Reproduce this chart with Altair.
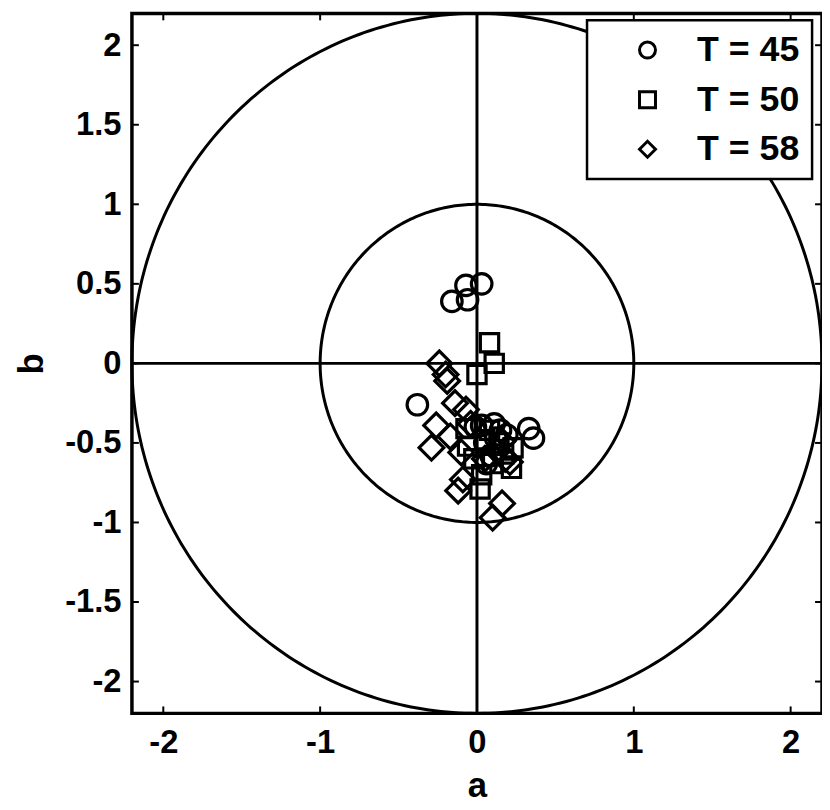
import altair as alt
import numpy as np
import pandas as pd

# ---- data ----
groups = ["T = 45", "T = 50", "T = 58"]

a45 = [-0.07, 0.03, -0.16, -0.06, -0.38, 0.03, 0.11, 0.15, 0.33, 0.36, 0.06, -0.01, 0.09, 0.05, 0.12, 0.19]
b45 = [0.49, 0.50, 0.39, 0.40, -0.26, -0.39, -0.38, -0.42, -0.41, -0.47, -0.63, -0.40, -0.58, -0.50, -0.47, -0.45]

a50 = [0.08, 0.11, 0.00, -0.07, -0.06, 0.05, 0.14, 0.23, 0.22, 0.10, 0.02, 0.03, -0.02, 0.08, 0.17]
b50 = [0.13, 0.00, -0.07, -0.41, -0.52, -0.48, -0.50, -0.53, -0.66, -0.63, -0.79, -0.70, -0.60, -0.42, -0.57]

a58 = [-0.24, -0.20, -0.19, -0.14, -0.07, -0.26, -0.29, -0.17, -0.09, -0.12, 0.16, 0.10, 0.16, 0.13,
       -0.04, 0.05, 0.18, -0.10, 0.21]
b58 = [0.00, -0.07, -0.11, -0.25, -0.29, -0.39, -0.53, -0.46, -0.73, -0.80, -0.88, -0.97, -0.49, -0.55,
       -0.38, -0.60, -0.60, -0.56, -0.62]

ring_radii = [2.2, 1.0]
axis_ticks_x = [-2, -1, 0, 1, 2]
axis_ticks_y = [-2, -1.5, -1, -0.5, 0, 0.5, 1, 1.5, 2]
lim = 2.2

FONT = "Liberation Sans"
W, H = 696, 706

pts = pd.DataFrame({
    "a": a45 + a50 + a58,
    "b": b45 + b50 + b58,
    "T": [groups[0]] * len(a45) + [groups[1]] * len(a50) + [groups[2]] * len(a58),
})

# reference rings (geometry)
theta = np.linspace(0, 2 * np.pi, 361)
ring_rows = []
for r in ring_radii:
    for i, t in enumerate(theta):
        ring_rows.append({"ring": r, "i": i, "a": r * np.cos(t), "b": r * np.sin(t)})
rings = pd.DataFrame(ring_rows)

xs = alt.Scale(domain=[-lim, lim], nice=False, zero=False)
ys = alt.Scale(domain=[-lim, lim], nice=False, zero=False)

x_axis = alt.Axis(values=axis_ticks_x, labelExpr="'' + datum.value", grid=False, ticks=False,
                  domain=False, labelFont=FONT, labelFontSize=33, labelFontWeight="bold",
                  labelColor="black", labelPadding=13, title="a", titleFont=FONT,
                  titleFontSize=35, titleFontWeight="bold", titleColor="black", titleY=56)
y_axis = alt.Axis(values=axis_ticks_y, labelExpr="'' + datum.value", grid=False, ticks=False,
                  domain=False, labelFont=FONT, labelFontSize=33, labelFontWeight="bold",
                  labelColor="black", labelPadding=11, title="b", titleFont=FONT,
                  titleFontSize=35, titleFontWeight="bold", titleColor="black",
                  titleX=-101, titleY=H / 2, titleBaseline="middle")

base_rings = alt.Chart(rings).mark_line(color="black", strokeWidth=3).encode(
    x=alt.X("a:Q", scale=xs, axis=x_axis),
    y=alt.Y("b:Q", scale=ys, axis=y_axis),
    detail="ring:N",
    order="i:Q",
)

zero = pd.DataFrame({"v": [0]})
vline = alt.Chart(zero).mark_rule(color="black", strokeWidth=3).encode(
    x=alt.X("v:Q", scale=xs), y=alt.value(0), y2=alt.value(H))
hline = alt.Chart(zero).mark_rule(color="black", strokeWidth=3).encode(
    y=alt.Y("v:Q", scale=ys), x=alt.value(0), x2=alt.value(W))

tx = pd.DataFrame({"v": axis_ticks_x})
ty = pd.DataFrame({"v": axis_ticks_y})
tick_b = alt.Chart(tx).mark_rule(color="black", strokeWidth=2).encode(
    x=alt.X("v:Q", scale=xs), y=alt.value(H), y2=alt.value(H - 7))
tick_t = alt.Chart(tx).mark_rule(color="black", strokeWidth=2).encode(
    x=alt.X("v:Q", scale=xs), y=alt.value(0), y2=alt.value(7))
tick_l = alt.Chart(ty).mark_rule(color="black", strokeWidth=2).encode(
    y=alt.Y("v:Q", scale=ys), x=alt.value(0), x2=alt.value(7))
tick_r = alt.Chart(ty).mark_rule(color="black", strokeWidth=2).encode(
    y=alt.Y("v:Q", scale=ys), x=alt.value(W), x2=alt.value(W - 7))

shape_scale = alt.Scale(domain=groups, range=["circle", "square", "diamond"])
legend = alt.Legend(orient="none", legendX=459, legendY=7, title=None,
                    strokeColor="black", fillColor="white", padding=12,
                    rowPadding=14, symbolSize=260, symbolStrokeWidth=3,
                    symbolStrokeColor="black", symbolFillColor="white",
                    symbolOffset=31, labelOffset=32, labelFont=FONT,
                    labelFontSize=36, labelFontWeight="bold",
                    labelColor="black", labelLimit=300)

marker_sizes = [430, 340, 620]
point_layers = []
for g, sz in zip(groups, marker_sizes):
    point_layers.append(
        alt.Chart(pts).transform_filter(alt.datum.T == g)
        .mark_point(filled=False, color="black", strokeWidth=3.2, opacity=1, size=sz)
        .encode(
            x=alt.X("a:Q", scale=xs),
            y=alt.Y("b:Q", scale=ys),
            shape=alt.Shape("T:N", scale=shape_scale, legend=legend),
        )
    )

chart = alt.layer(base_rings, vline, hline, tick_b, tick_t, tick_l, tick_r, *point_layers).properties(
    width=W, height=H,
    autosize=alt.AutoSizeParams(type="none"),
    padding={"left": 125, "top": 2, "right": 0, "bottom": 92},
    background="white",
).configure_view(stroke="black", strokeWidth=3.5).configure_legend(strokeWidth=2.5)

chart.save("out.html", embed_options={"renderer": "svg", "actions": False})
